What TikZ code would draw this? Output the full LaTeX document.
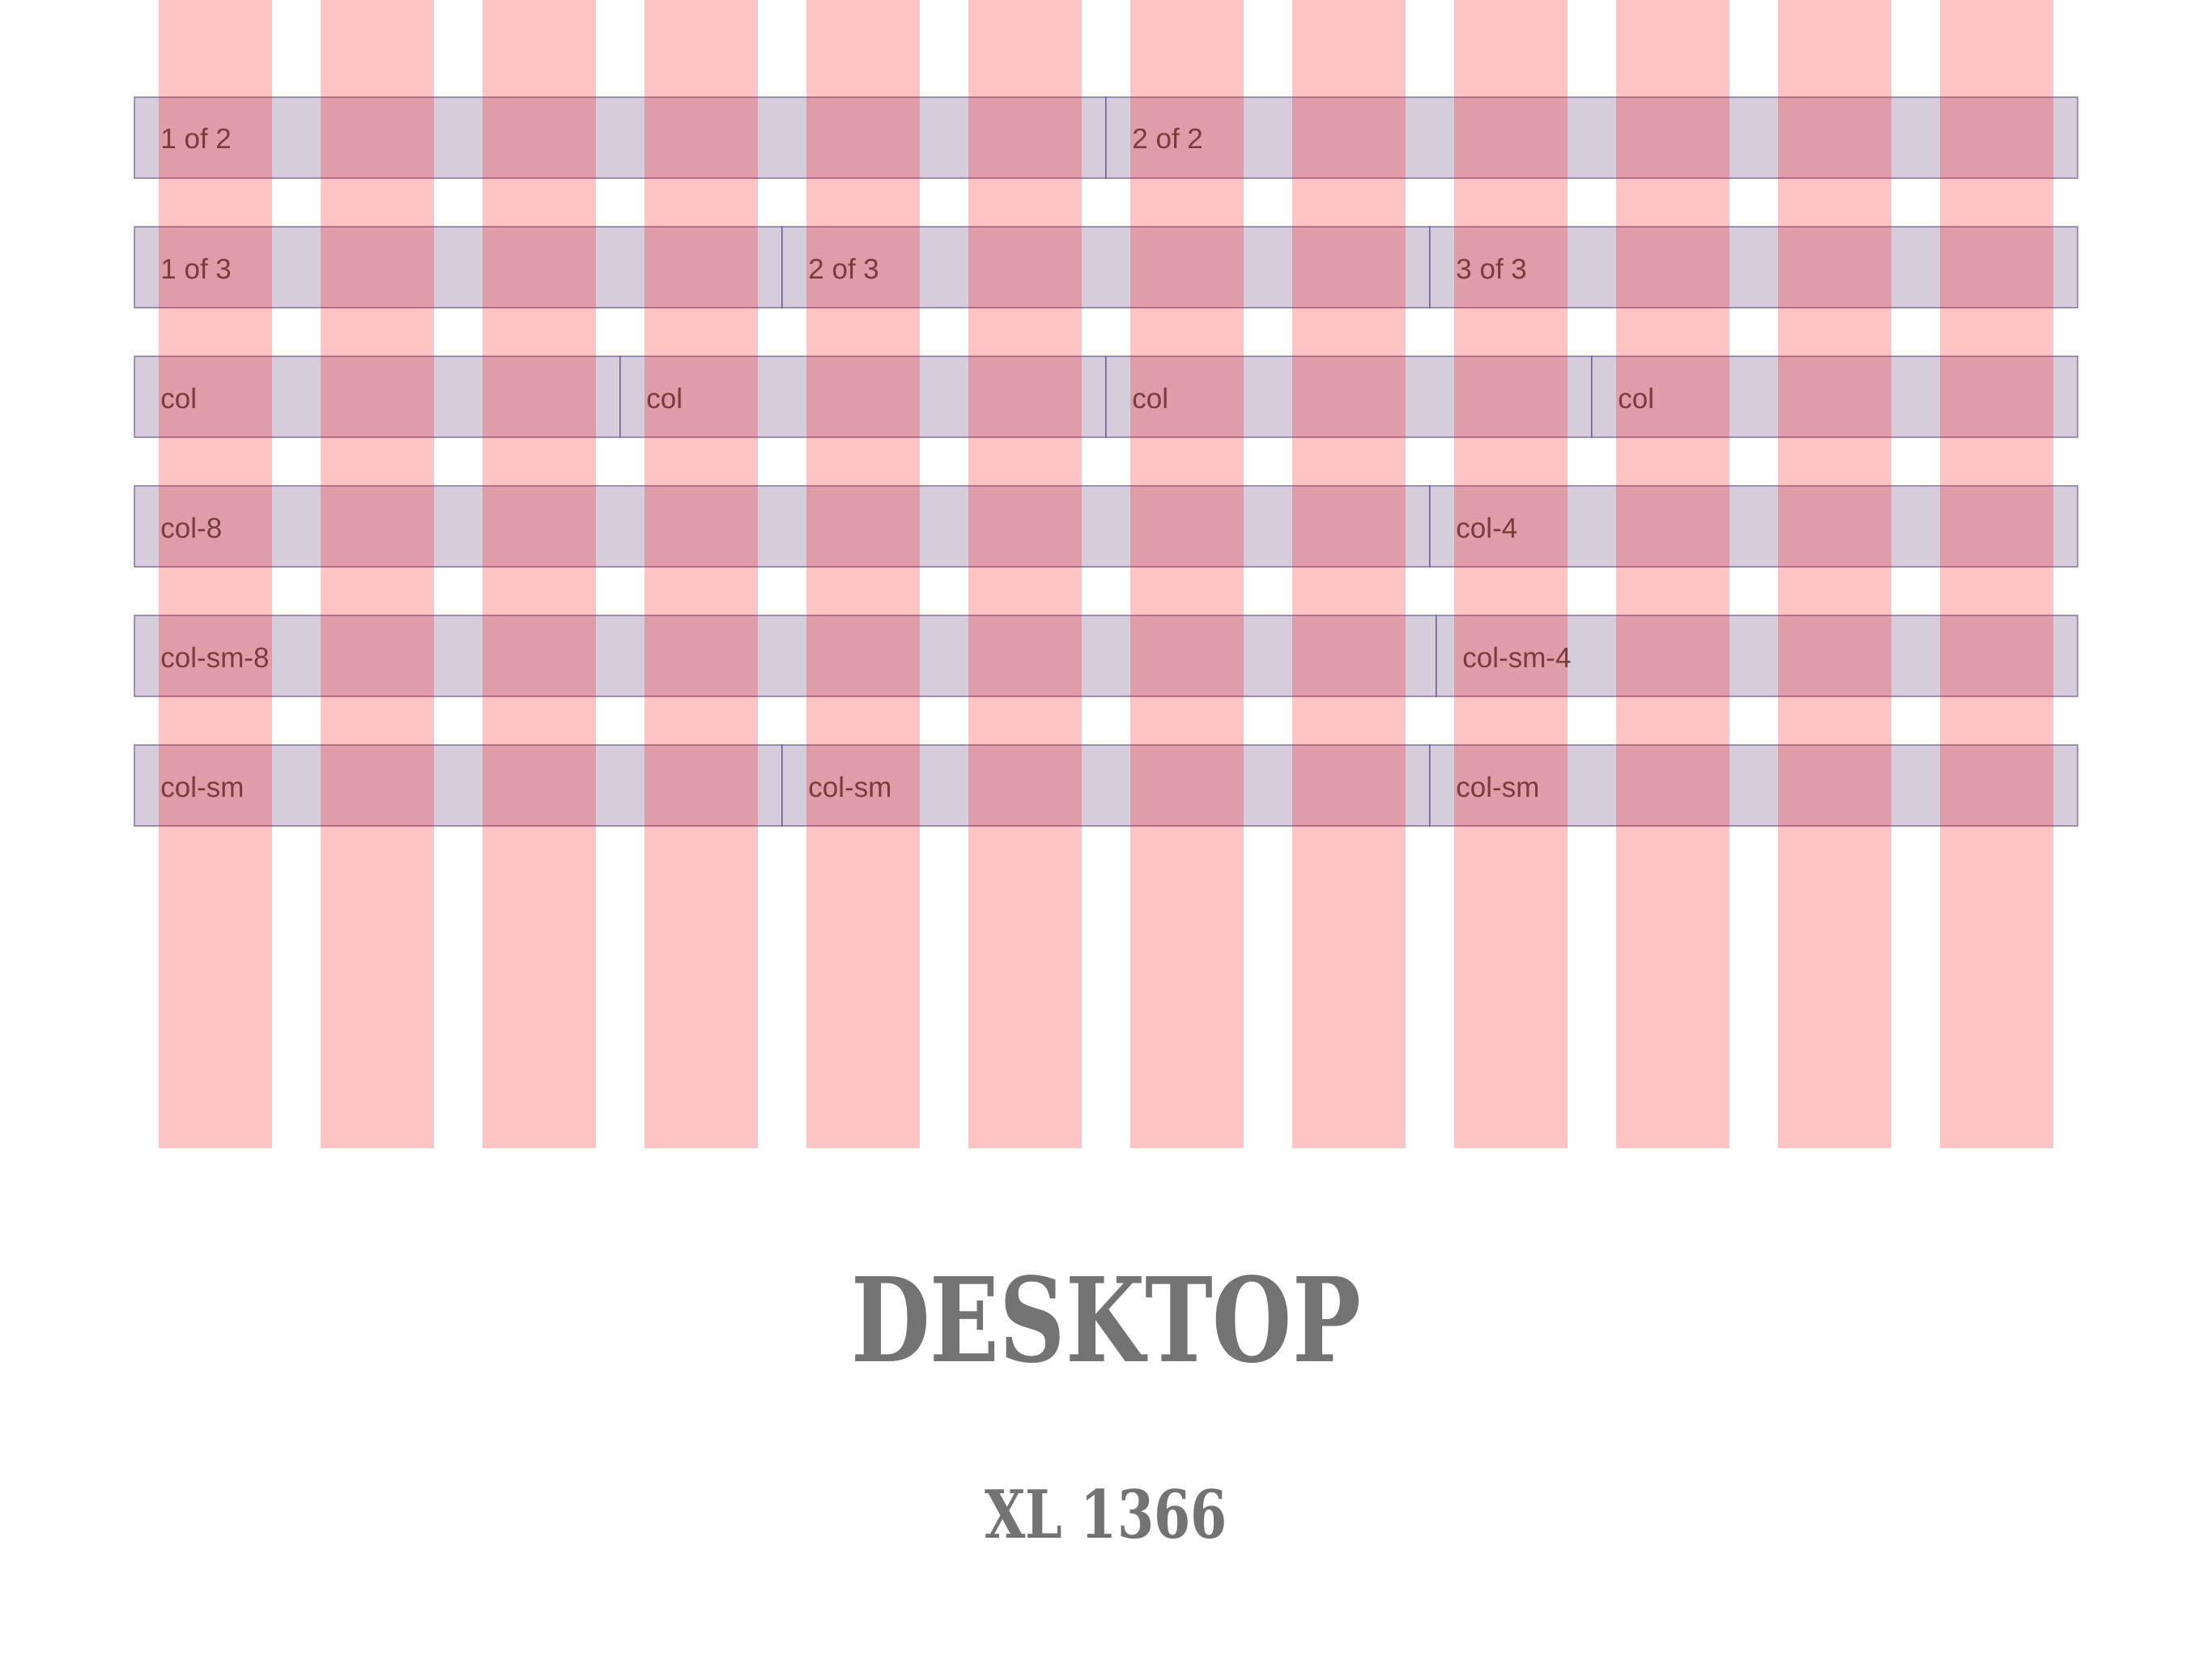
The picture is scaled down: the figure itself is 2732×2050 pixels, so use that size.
\documentclass[tikz,border=0pt]{standalone}
\usepackage{fontspec}
\setmainfont{Liberation Sans}
\newfontfamily\slabfont{DejaVu Serif Condensed}
\definecolor{cellfill}{RGB}{213,205,220}
\definecolor{cellline}{RGB}{86,61,124}
\definecolor{lbltext}{RGB}{80,80,80}
\definecolor{titlegray}{RGB}{115,115,115}
\begin{document}
\begin{tikzpicture}[x=0.5pt,y=-0.5pt,
  cell/.style={fill=cellfill,draw=cellline,draw opacity=0.5,line width=0.75pt},
  lbl/.style={anchor=base west,inner sep=0pt,text=lbltext,font=\fontsize{17.5}{20}\selectfont},
  gridcol/.style={fill=red,fill opacity=0.23}]
  \fill[white] (0,0) rectangle (2732,2050);
  \useasboundingbox (0,0) rectangle (2732,2050);
  % halves
  \draw[cell] (166,120) rectangle (1366,220);
  \draw[cell] (1366,120) rectangle (2566,220);
  \node[lbl] (half1) at (198,184) {1 of 2};
  \node[lbl] (half2) at (1398,184) {2 of 2};
  % thirds
  \draw[cell] (166,280) rectangle (966,380);
  \draw[cell] (966,280) rectangle (1766,380);
  \draw[cell] (1766,280) rectangle (2566,380);
  \node[lbl] (third1) at (198,344) {1 of 3};
  \node[lbl] (third2) at (998,344) {2 of 3};
  \node[lbl] (third3) at (1798,344) {3 of 3};
  % quarters
  \draw[cell] (166,440) rectangle (766,540);
  \draw[cell] (766,440) rectangle (1366,540);
  \draw[cell] (1366,440) rectangle (1966,540);
  \draw[cell] (1966,440) rectangle (2566,540);
  \node[lbl] (quart1) at (198,504) {col};
  \node[lbl] (quart2) at (798,504) {col};
  \node[lbl] (quart3) at (1398,504) {col};
  \node[lbl] (quart4) at (1998,504) {col};
  % 8 + 4
  \draw[cell] (166,600) rectangle (1766,700);
  \draw[cell] (1766,600) rectangle (2566,700);
  \node[lbl] (eight) at (198,664) {col-8};
  \node[lbl] (four) at (1798,664) {col-4};
  % sm 8 + 4
  \draw[cell] (166,760) rectangle (1774,860);
  \draw[cell] (1774,760) rectangle (2566,860);
  \node[lbl] (smeight) at (198,824) {col-sm-8};
  \node[lbl] (smfour) at (1806,824) {col-sm-4};
  % sm thirds
  \draw[cell] (166,920) rectangle (966,1020);
  \draw[cell] (966,920) rectangle (1766,1020);
  \draw[cell] (1766,920) rectangle (2566,1020);
  \node[lbl] (sm1) at (198,984) {col-sm};
  \node[lbl] (sm2) at (998,984) {col-sm};
  \node[lbl] (sm3) at (1798,984) {col-sm};
  % twelve grid columns on top
  \foreach \i in {0,...,11}
    \fill[gridcol] ({196+200*\i},0) rectangle ++(140,1418);
  \node[text=titlegray,font=\slabfont\bfseries\fontsize{72}{80}\selectfont] (title) at (1366,1629) {\scalebox{0.87}[1]{DESKTOP}};
  \node[text=titlegray,font=\slabfont\bfseries\fontsize{41}{48}\selectfont] (size) at (1366,1870) {\scalebox{0.88}[1]{XL 1366}};
\end{tikzpicture}
\end{document}
